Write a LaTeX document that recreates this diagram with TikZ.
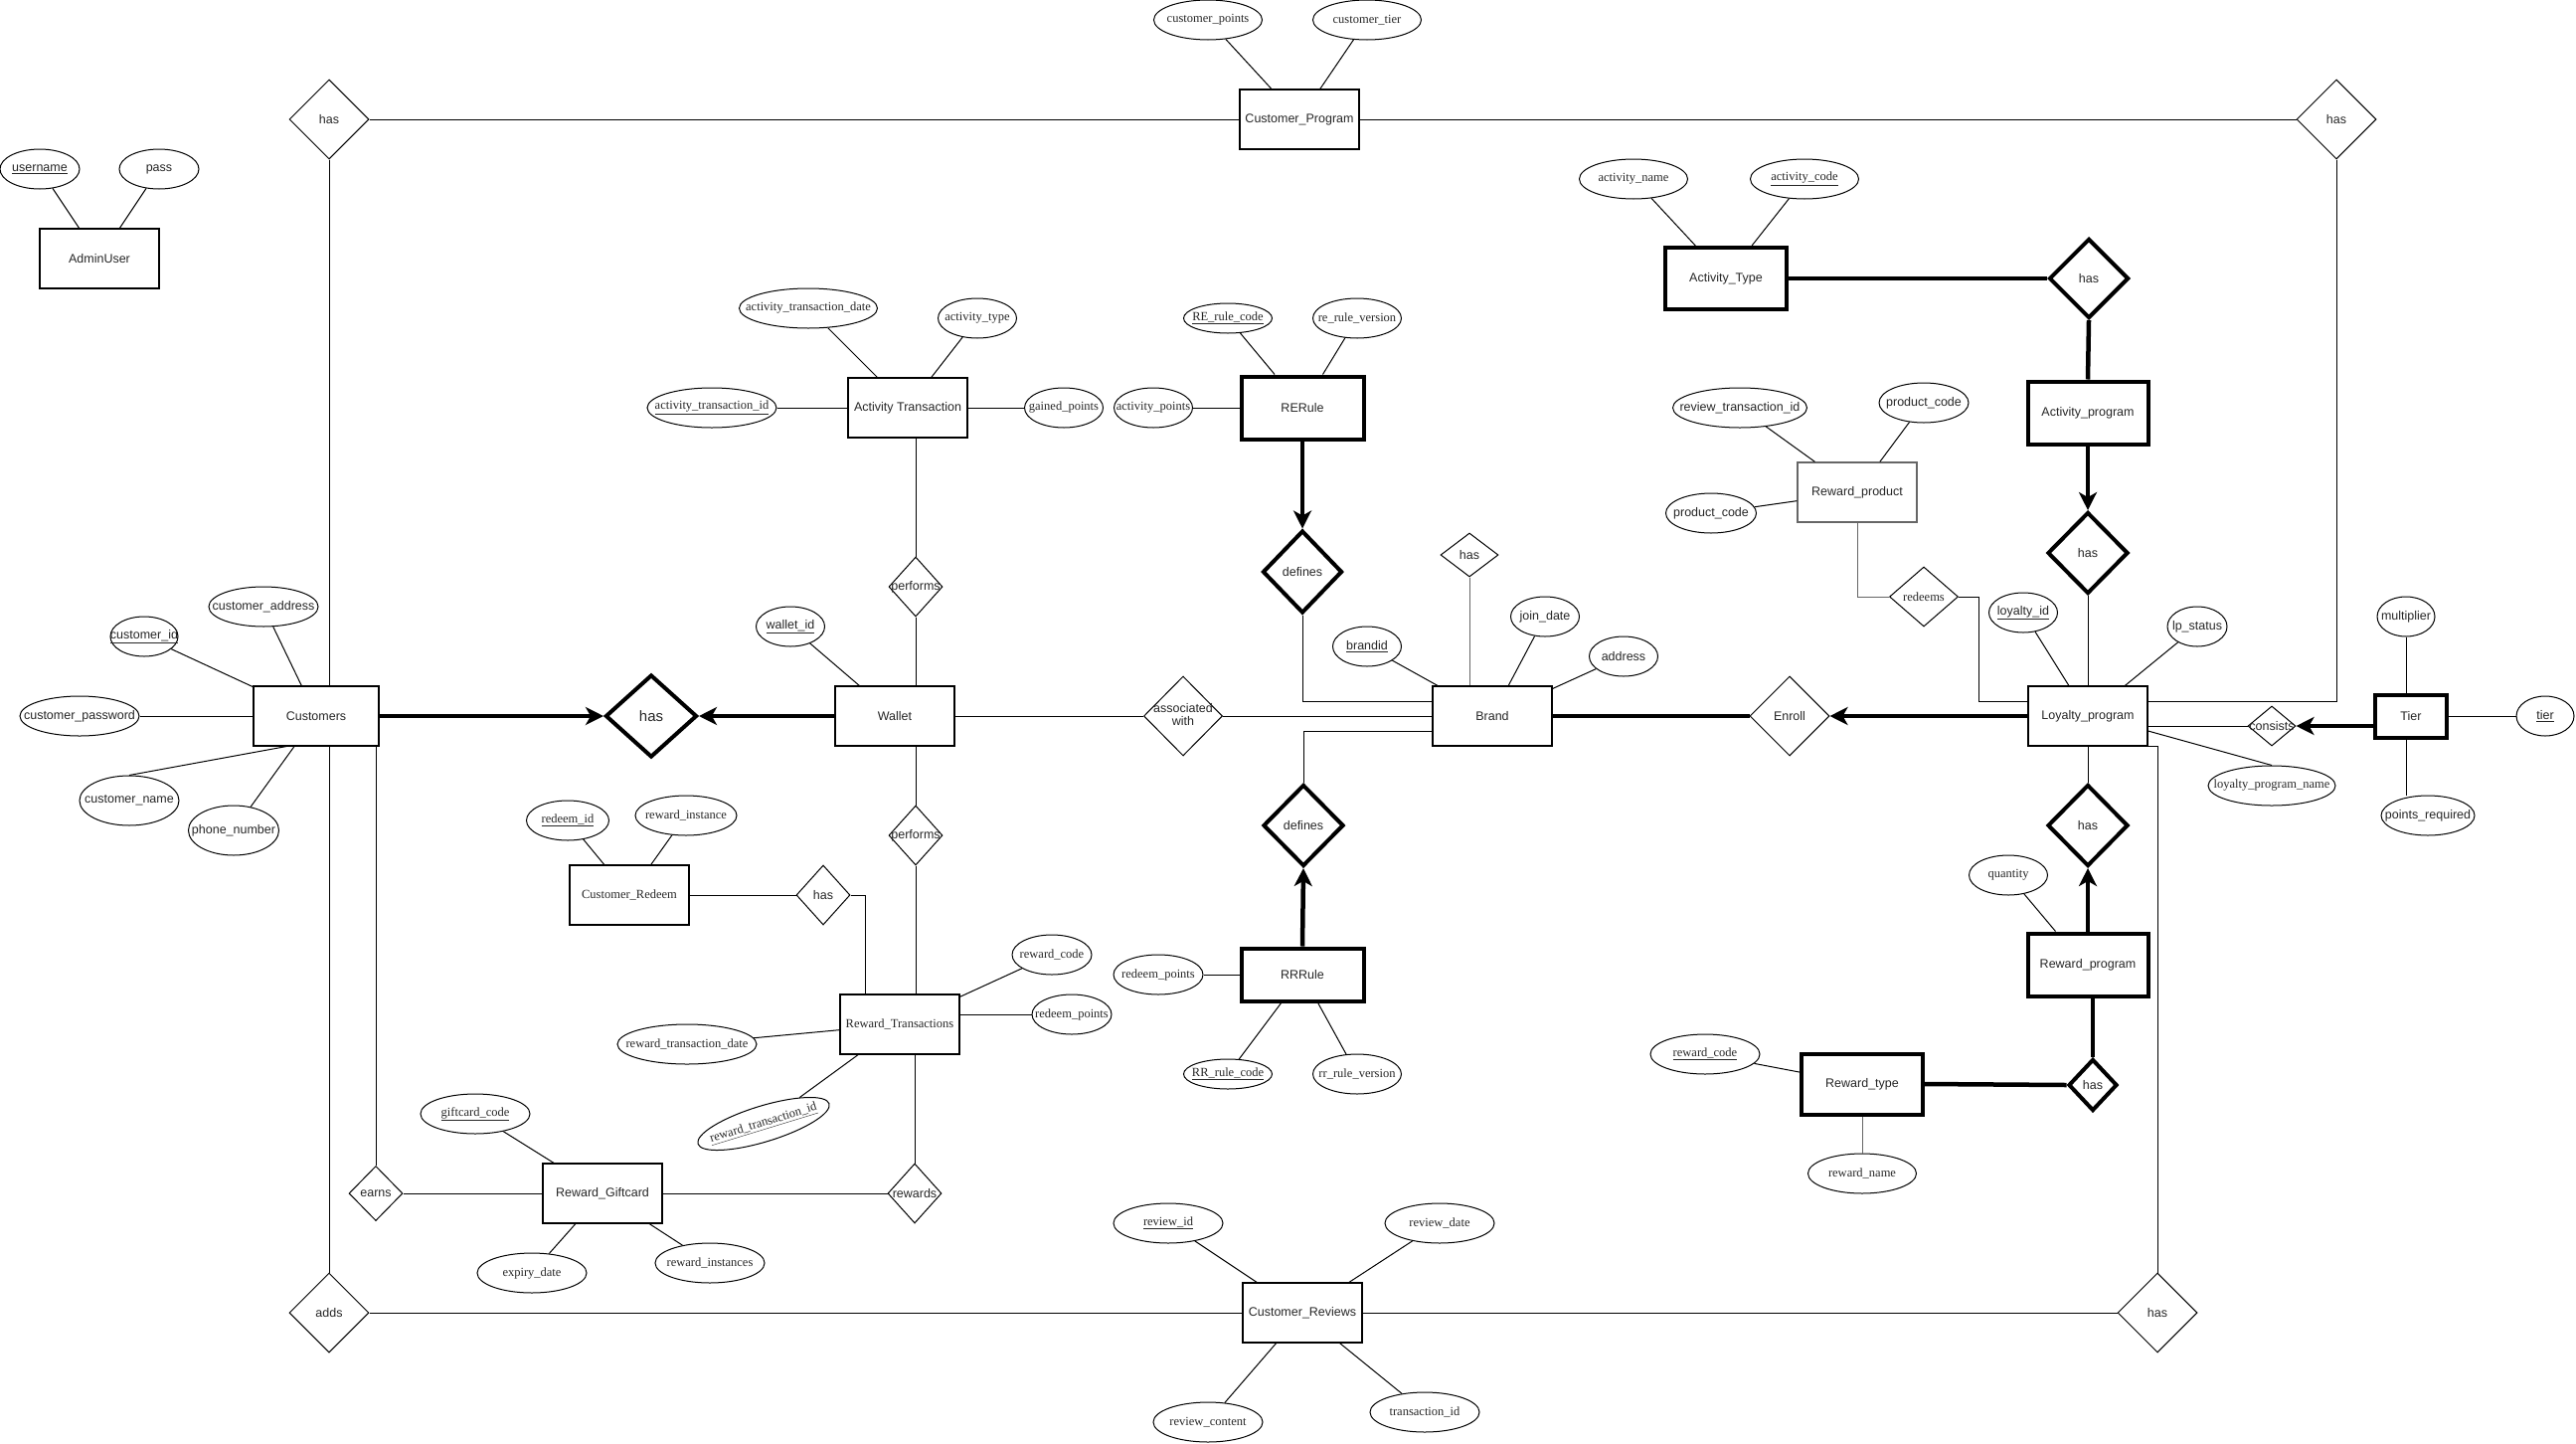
\documentclass[tikz,border=0pt]{standalone}
\usepackage{fontspec}
\setmainfont{Liberation Serif}
\setsansfont{Liberation Sans}
\usetikzlibrary{shapes.geometric,arrows.meta,calc}
\newcommand{\ct}[1]{\makebox[0pt]{#1}}
\newcommand{\twol}[2]{\makebox[0pt]{\begin{tabular}{@{}c@{}}#1\\[-2pt]#2\end{tabular}}}
\begin{document}
\begin{tikzpicture}[x=1pt,y=-1pt,
  every node/.style={font=\sffamily\fontsize{12.5}{15}\selectfont, inner sep=0pt, text=black!85},
  sz/.style 2 args={minimum width=#1pt, minimum height=#2pt},
  ent/.style={draw, rectangle, line width=1.1pt},
  went/.style={draw, rectangle, line width=4pt},
  attr/.style={draw, ellipse, line width=1pt},
  rel/.style={draw, diamond, line width=1pt},
  wrel/.style={draw, diamond, line width=4pt},
  sf/.style={font=\rmfamily\fontsize{12.5}{15}\selectfont},
  ln/.style={line width=1pt},
  tk/.style={line width=4.5pt},
  arrowk/.style={-{Stealth[length=18pt,width=18pt,inset=5pt]}}
]
\useasboundingbox (0,0) rectangle (2591,1451);

% ---------- AdminUser
\node[attr, sz={80}{40}] (user) at (40,170) {\ct{\underline{username}}};
\node[attr, sz={80}{40}] (pass) at (160,170) {\ct{pass}};
\node[ent, sz={120}{60}] (admin) at (100,260) {\ct{AdminUser}};

% ---------- Customer_Program
\node[rel, sz={80}{80}] (has1) at (331,120) {\ct{has}};
\node[rel, sz={80}{80}] (has2) at (2350,120) {\ct{has}};
\node[ent, sz={120}{60}] (cprog) at (1307,120) {\ct{Customer\_Program}};
\node[attr, sf, sz={109}{40}] (cpoints) at (1215,20) {\ct{customer\_points}};
\node[attr, sf, sz={109}{40}] (ctier) at (1375,20) {\ct{customer\_tier}};

% ---------- Activity type / program
\node[attr, sf, sz={109}{40}] (aname) at (1643,180) {\ct{activity\_name}};
\node[attr, sf, sz={109}{40}] (acode) at (1815,180) {\ct{\underline{activity\_code}}};
\node[went, sz={122}{62}] (atype) at (1736,280) {\ct{Activity\_Type}};
\node[wrel, sz={80}{80}] (has3) at (2101,280) {\ct{has}};
\node[went, sz={121}{63}] (aprog) at (2100,415) {\ct{Activity\_program}};
\node[wrel, sz={81}{82}] (has4) at (2100,556) {\ct{has}};

% ---------- Activity Transaction
\node[attr, sf, sz={139}{40}] (atd) at (813,310) {\ct{activity\_transaction\_date}};
\node[attr, sf, sz={130}{40}] (atid) at (716,410) {\ct{\underline{activity\_transaction\_id}}};
\node[attr, sf, sz={79}{40}] (attype) at (983,320) {\ct{activity\_type}};
\node[ent, sz={120}{60}] (at) at (913,410) {\ct{Activity Transaction}};
\node[attr, sf, sz={79}{40}] (gp) at (1070,410) {\ct{gained\_points}};
\node[attr, sf, sz={79}{40}] (ap) at (1160,410) {\ct{activity\_points}};
\node[went, sz={123}{63}] (rerule) at (1310,410) {\ct{RERule}};
\node[attr, sf, sz={89}{30}] (rerc) at (1235,320) {\ct{\underline{RE\_rule\_code}}};
\node[attr, sf, sz={89}{40}] (rerv) at (1365,320) {\ct{re\_rule\_version}};

% ---------- Reward_product
\node[attr, sz={135}{40}] (revtid) at (1750,410) {\ct{review\_transaction\_id}};
\node[attr, sz={90}{40}] (pcode1) at (1935,405) {\ct{product\_code}};
\node[draw=black!60, rectangle, line width=1.3pt, sz={120}{60}] (rprod) at (1868,495) {\ct{Reward\_product}};
\node[attr, sz={91}{40}] (pcode2) at (1721,516) {\ct{product\_code}};
\node[rel, sf, sz={69}{60}] (redeems) at (1935,600) {\ct{redeems}};

% ---------- Customers
\node[attr, sz={110}{40}] (caddr) at (265,610) {\ct{customer\_address}};
\node[attr, sz={68}{40}] (cid) at (145,640) {\ct{\underline{customer\_id}}};
\node[attr, sz={120}{40}] (cpw) at (80,720) {\ct{customer\_password}};
\node[ent, sz={126}{60}] (cust) at (318,720) {\ct{Customers}};
\node[attr, sz={100}{50}] (cname) at (130,805) {\ct{customer\_name}};
\node[attr, sz={91}{50}] (phone) at (235,835) {\ct{phone\_number}};
\node[wrel, sz={92}{83}] (bighas) at (655,720) {\ct{\fontsize{15}{18}\selectfont has}};

% ---------- Wallet
\node[attr, sz={69}{40}] (walletid) at (795,630) {\ct{\underline{wallet\_id}}};
\node[ent, sz={120}{60}] (wallet) at (900,720) {\ct{Wallet}};
\node[rel, sz={54}{60}] (perf1) at (921,590) {\ct{performs}};
\node[rel, sz={54}{60}] (perf2) at (921,840) {\ct{performs}};
\node[rel, sz={79}{80}] (assoc) at (1190,720) {\twol{associated}{with}};

% ---------- Brand
\node[wrel, sz={80}{83}] (def1) at (1310,575) {\ct{defines}};
\node[wrel, sz={81}{82}] (def2) at (1311,830) {\ct{defines}};
\node[rel, sz={58}{44}] (hasB) at (1478,558) {\ct{has}};
\node[attr, sz={69}{40}] (brandid) at (1375,650) {\ct{\underline{brandid}}};
\node[attr, sz={69}{40}] (joind) at (1554,620) {\ct{join\_date}};
\node[attr, sz={69}{40}] (address) at (1633,660) {\ct{address}};
\node[ent, sz={120}{60}] (brand) at (1501,720) {\ct{Brand}};
\node[rel, sz={80}{80}] (enroll) at (1800,720) {\ct{Enroll}};

% ---------- Loyalty program
\node[attr, sz={69}{40}] (loyid) at (2035,616) {\ct{\underline{loyalty\_id}}};
\node[attr, sz={60}{40}] (lps) at (2210,630) {\ct{lp\_status}};
\node[ent, sz={120}{60}] (lp) at (2100,720) {\ct{Loyalty\_program}};
\node[rel, sz={48}{40}] (cons) at (2285,730) {\ct{consists}};
\node[went, sz={72}{43}] (tier) at (2425,720) {\ct{Tier}};
\node[attr, sz={58}{40}] (mult) at (2420,620) {\ct{multiplier}};
\node[attr, sz={58}{40}] (tierk) at (2560,720) {\ct{\underline{tier}}};
\node[attr, sz={94}{40}] (preq) at (2442,820) {\ct{points\_required}};
\node[attr, sf, sz={128}{40}] (lpn) at (2285,790) {\ct{loyalty\_program\_name}};

% ---------- Reward program / type
\node[wrel, sz={81}{82}] (has5) at (2100,830) {\ct{has}};
\node[attr, sf, sz={79}{40}] (qty) at (2020,880) {\ct{quantity}};
\node[went, sz={121}{63}] (rprog) at (2100,970) {\ct{Reward\_program}};
\node[wrel, sz={49}{52}] (has6) at (2105,1091) {\ct{has}};
\node[went, sz={122}{61}] (rtype) at (1873,1090) {\ct{Reward\_type}};
\node[attr, sf, sz={110}{40}] (rcode2) at (1715,1060) {\ct{\underline{reward\_code}}};
\node[attr, sf, sz={109}{40}] (rname) at (1873,1180) {\ct{reward\_name}};
\node[rel, sz={80}{80}] (hasR) at (2170,1320) {\ct{has}};

% ---------- Customer_Redeem
\node[attr, sf, sz={83}{40}] (redid) at (571,825) {\ct{\underline{redeem\_id}}};
\node[attr, sf, sz={102}{40}] (rinst) at (690,820) {\ct{reward\_instance}};
\node[ent, sf, sz={120}{60}] (crd) at (633,900) {\ct{Customer\_Redeem}};
\node[rel, sz={54}{60}] (hasCR) at (828,900) {\ct{has}};

% ---------- Reward_Transactions
\node[ent, sf, sz={120}{60}] (rt) at (905,1030) {\ct{Reward\_Transactions}};
\node[attr, sf, sz={80}{40}] (rcode1) at (1058,960) {\ct{reward\_code}};
\node[attr, sf, sz={80}{40}] (rpts1) at (1078,1020) {\ct{redeem\_points}};
\node[attr, sf, sz={140}{40}] (rtd) at (691,1050) {\ct{reward\_transaction\_date}};
\node[attr, sf, sz={138}{36}, rotate=17] (rtid2) at (768,1130) {\ct{\underline{reward\_transaction\_id}}};
\node[rel, sz={54}{60}] (rew) at (920,1200) {\ct{rewards}};

% ---------- Reward_Giftcard
\node[ent, sz={120}{60}] (gift) at (606,1200) {\ct{Reward\_Giftcard}};
\node[attr, sf, sz={110}{40}] (gcode) at (478,1120) {\ct{\underline{giftcard\_code}}};
\node[attr, sf, sz={110}{40}] (expd) at (535,1280) {\ct{expiry\_date}};
\node[attr, sf, sz={110}{40}] (rinsts) at (714,1270) {\ct{reward\_instances}};
\node[rel, sz={54}{55}] (earns) at (378,1200) {\ct{earns}};
\node[rel, sz={80}{80}] (adds) at (331,1320) {\ct{adds}};

% ---------- RRRule
\node[went, sz={123}{53}] (rrrule) at (1310,980) {\ct{RRRule}};
\node[attr, sf, sz={90}{40}] (rpts2) at (1165,980) {\ct{redeem\_points}};
\node[attr, sf, sz={89}{30}] (rrc) at (1235,1080) {\ct{\underline{RR\_rule\_code}}};
\node[attr, sf, sz={89}{40}] (rrv) at (1365,1080) {\ct{rr\_rule\_version}};

% ---------- Customer_Reviews
\node[ent, sz={120}{60}] (crev) at (1310,1320) {\ct{Customer\_Reviews}};
\node[attr, sf, sz={110}{40}] (revid) at (1175,1230) {\ct{\underline{review\_id}}};
\node[attr, sf, sz={110}{40}] (revd) at (1448,1230) {\ct{review\_date}};
\node[attr, sf, sz={110}{40}] (revc) at (1215,1430) {\ct{review\_content}};
\node[attr, sf, sz={110}{40}] (tid) at (1433,1420) {\ct{transaction\_id}};

% ================= connectors
\draw[ln] (user) -- (admin);
\draw[ln] (pass) -- (admin);

\draw[ln] (has1.east) -- (cprog.west);
\draw[ln] (cprog.east) -- (has2.west);
\draw[ln] (cpoints) -- (cprog);
\draw[ln] (ctier) -- (cprog);
\draw[ln] (has1.south) -- (has1.south |- cust.north);
\draw[ln] (adds.north |- cust.south) -- (adds.north);
\draw[ln] (earns.north |- cust.south) -- (earns.north);
\draw[ln] (earns.east) -- (gift.west);
\draw[ln] (gift.east) -- (rew.west);
\draw[ln] (rew.north |- rt.south) -- (rew.north);
\draw[ln] (gcode) -- (gift);
\draw[ln] (expd) -- (gift);
\draw[ln] (rinsts) -- (gift);
\draw[ln] (adds.east) -- (crev.west);
\draw[ln] (crev.east) -- (hasR.west);
\draw[ln] (lp.south east) -| (hasR.north);
\draw[ln] (revid) -- (crev);
\draw[ln] (revd) -- (crev);
\draw[ln] (revc) -- (crev);
\draw[ln] (tid) -- (crev);

\draw[ln] (cid) -- (cust);
\draw[ln] (caddr) -- (cust);
\draw[ln] (cpw) -- (cust);
\draw[ln] (cname.north) -- ([xshift=-30pt]cust.south);
\draw[ln] (phone) -- (cust);
\draw[tk, arrowk] (cust.east) -- (bighas.west);
\draw[tk, arrowk] (wallet.west) -- (bighas.east);
\draw[ln] (walletid) -- (wallet);
\draw[ln] (perf1.north |- at.south) -- (perf1.north);
\draw[ln] (perf1.south) -- (perf1.south |- wallet.north);
\draw[ln] (perf2.north |- wallet.south) -- (perf2.north);
\draw[ln] (perf2.south) -- (perf2.south |- rt.north);

\draw[ln] (atd) -- (at);
\draw[ln] (atid) -- (at);
\draw[ln] (attype) -- (at);
\draw[ln] (at.east) -- (gp.west);
\draw[ln] (ap.east) -- (rerule.west);
\draw[ln] (rerc) -- (rerule);
\draw[ln] (rerv) -- (rerule);
\draw[tk, arrowk] (rerule.south) -- (def1.north);
\draw[ln] (def1.south) |- ([yshift=15pt]brand.west);
\draw[ln] (wallet.east) -- (assoc.west);
\draw[ln] (assoc.east) -- (brand.west);
\draw[ln] ([yshift=-15pt]brand.west) -| (def2.north);
\draw[tk, arrowk] (rrrule.north) -- (def2.south);
\draw[ln] (rpts2.east) -- (rrrule.west);
\draw[ln] (rrc) -- (rrrule);
\draw[ln] (rrv) -- (rrrule);
\draw[ln, black!60] (hasB.south) -- (hasB.south |- brand.north);
\draw[ln] (brandid) -- (brand);
\draw[ln] (joind) -- (brand);
\draw[ln] (address) -- (brand);
\draw[tk] (brand.east) -- (enroll.west);
\draw[tk, arrowk] (lp.west) -- (enroll.east);

\draw[tk] (atype.east) -- (has3.west);
\draw[tk] (has3.south) -- (aprog.north);
\draw[tk, arrowk] (aprog.south) -- (has4.north);
\draw[ln] (has4.south) -- (lp.north);
\draw[ln] (aname) -- (atype);
\draw[ln] (acode) -- (atype);
\draw[ln] (has2.south) |- ([yshift=15pt]lp.east);

\draw[ln] (revtid) -- (rprod);
\draw[ln] (pcode1) -- (rprod);
\draw[ln] (pcode2) -- (rprod);
\draw[ln, black!60] (rprod.south) |- (redeems.west);
\draw[ln] (redeems.east) -- ++(20,0) |- ([yshift=15pt]lp.west);

\draw[ln] (loyid) -- (lp);
\draw[ln] (lps) -- (lp);
\draw[ln] ([yshift=-10pt]lp.east) -- (cons.west);
\draw[tk, arrowk] (tier.west |- cons.east) -- (cons.east);
\draw[ln] ([yshift=-15pt]lp.east) -- (lpn.north);
\draw[ln] (mult.south) -- (mult.south |- tier.north);
\draw[ln] (tier.east) -- (tierk.west);
\draw[ln] (mult.south |- tier.south) -- (mult.south |- preq.north);

\draw[ln] (lp.south) -- (has5.north);
\draw[tk, arrowk] (rprog.north) -- (has5.south);
\draw[ln] (qty) -- ([xshift=30pt]rprog.north west);
\draw[tk] (has6.north |- rprog.south) -- (has6.north);
\draw[tk] (rtype.east) -- (has6.west);
\draw[ln] (rcode2) -- (rtype);
\draw[ln, black!60] (rtype.south) -- (rname.north);

\draw[ln] (redid) -- (crd);
\draw[ln] (rinst) -- (crd);
\draw[ln] (crd.east) -- (hasCR.west);
\draw[ln] (hasCR.east) -| ([xshift=-35pt]rt.north);
\draw[ln] (rcode1) -- (rt);
\draw[ln] (rt.east |- rpts1.west) -- (rpts1.west);
\draw[ln] (rtd) -- (rt);
\draw[ln] (rtid2) -- (rt);
\end{tikzpicture}
\end{document}
